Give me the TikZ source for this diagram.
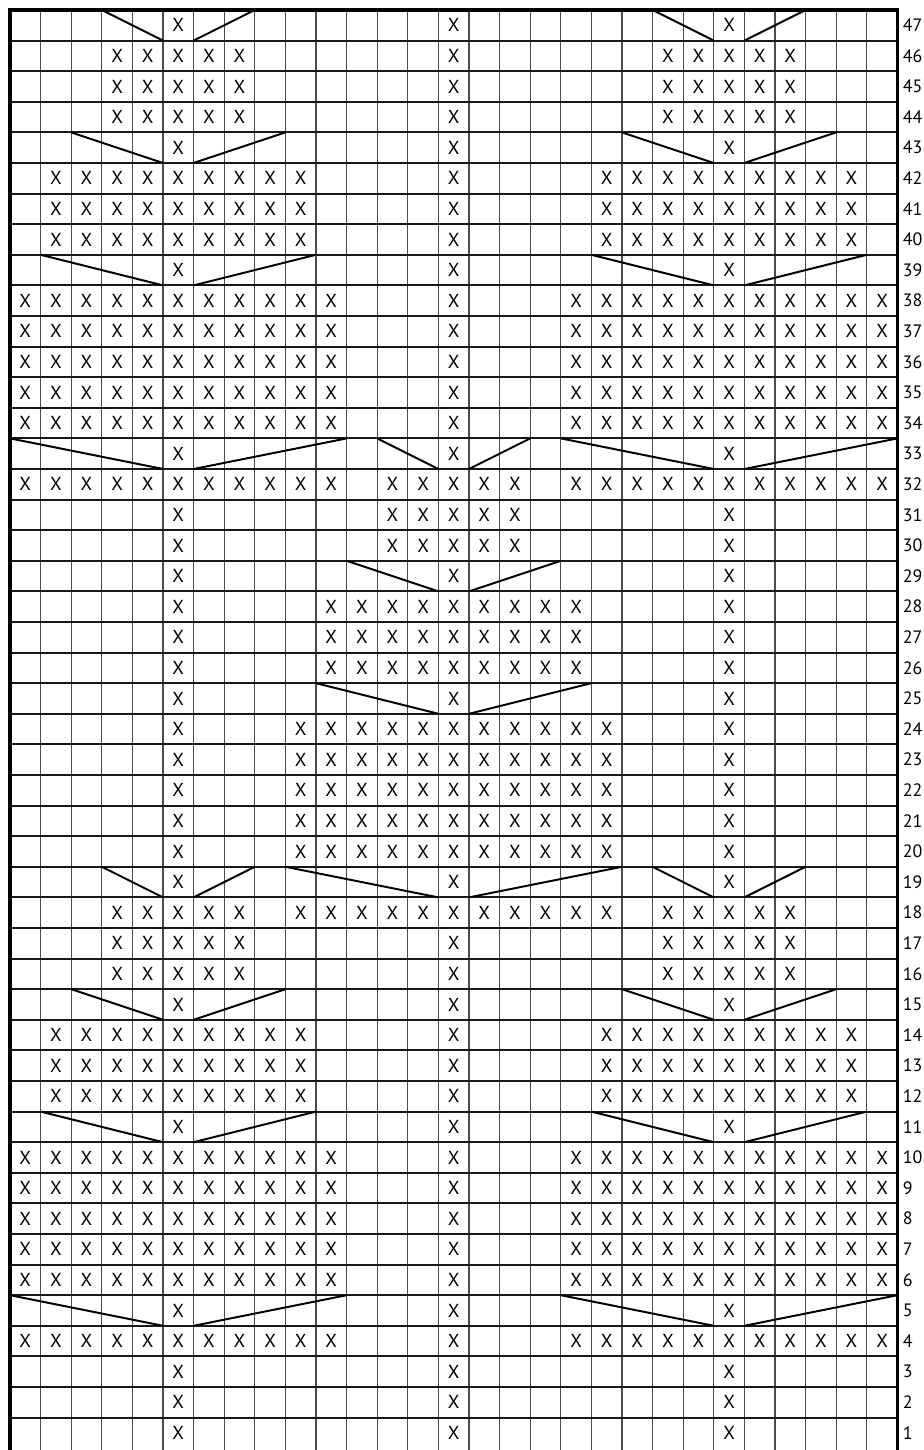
\documentclass[tikz,border=0pt]{standalone}
\usepackage{fontspec}
\setmainfont{PT Sans}

\begin{document}
\begin{tikzpicture}[
    x=0.6cm, y=0.6cm,
    stitch/.style={inner sep=0pt, font=\fontsize{10.5}{12}\selectfont},
    rownum/.style={anchor=west, inner sep=0pt, font=\fontsize{10}{12}\selectfont},
    vline/.style={line width=0.7pt, black!70},
    hline/.style={line width=1.1pt, black!90},
    frame/.style={line width=1.8pt},
    fan/.style={line width=1.1pt}
]
\path[use as bounding box, clip] (-0.327,-0.059) rectangle (29.837,47.327);

% grid
\foreach \c in {1,...,28}
    \draw[vline] (\c,-0.5) -- (\c,47);
\foreach \r in {1,...,46}
    \draw[hline] (0,\r) -- (29,\r);
\draw[frame] (0,-0.5) -- (0,47) -- (29,47) -- (29,-0.5);

% row numbers
\foreach \r in {1,...,47}
    \node[rownum] (n\r) at (29.17,\r-0.5) {\r};

% stitches: first row / last row / centre column / half width
\foreach \ra/\rb/\cc/\hw in {
    1/3/6/0, 4/4/6/5, 5/5/6/0, 6/10/6/5, 11/11/6/0, 12/14/6/4, 15/15/6/0,
    16/18/6/2, 19/31/6/0, 32/32/6/5, 33/33/6/0, 34/38/6/5, 39/39/6/0,
    40/42/6/4, 43/43/6/0, 44/46/6/2, 47/47/6/0,
    1/3/24/0, 4/4/24/5, 5/5/24/0, 6/10/24/5, 11/11/24/0, 12/14/24/4, 15/15/24/0,
    16/18/24/2, 19/31/24/0, 32/32/24/5, 33/33/24/0, 34/38/24/5, 39/39/24/0,
    40/42/24/4, 43/43/24/0, 44/46/24/2, 47/47/24/0,
    1/17/15/0, 18/18/15/5, 19/19/15/0, 20/24/15/5, 25/25/15/0,
    26/28/15/4, 29/29/15/0, 30/32/15/2, 33/47/15/0}
  \foreach \r in {\ra,...,\rb}
    \foreach \k in {-\hw,...,\hw} {
      \pgfmathtruncatemacro\col{\cc+\k}
      \node[stitch] (s\r-\col) at (\col-0.5,\r-0.5) {X};
    }

% fans: row / centre column / half width
\foreach \r/\cc/\hw in {5/6/5, 11/6/4, 15/6/3, 19/6/2, 33/6/5, 39/6/4, 43/6/3, 47/6/2,
    5/24/5, 11/24/4, 15/24/3, 19/24/2, 33/24/5, 39/24/4, 43/24/3, 47/24/2,
    19/15/5, 25/15/4, 29/15/3, 33/15/2}
  \draw[fan] (\cc-1-\hw,\r) -- (\cc-1,\r-1) (\cc,\r-1) -- (\cc+\hw,\r);
\end{tikzpicture}
\end{document}
